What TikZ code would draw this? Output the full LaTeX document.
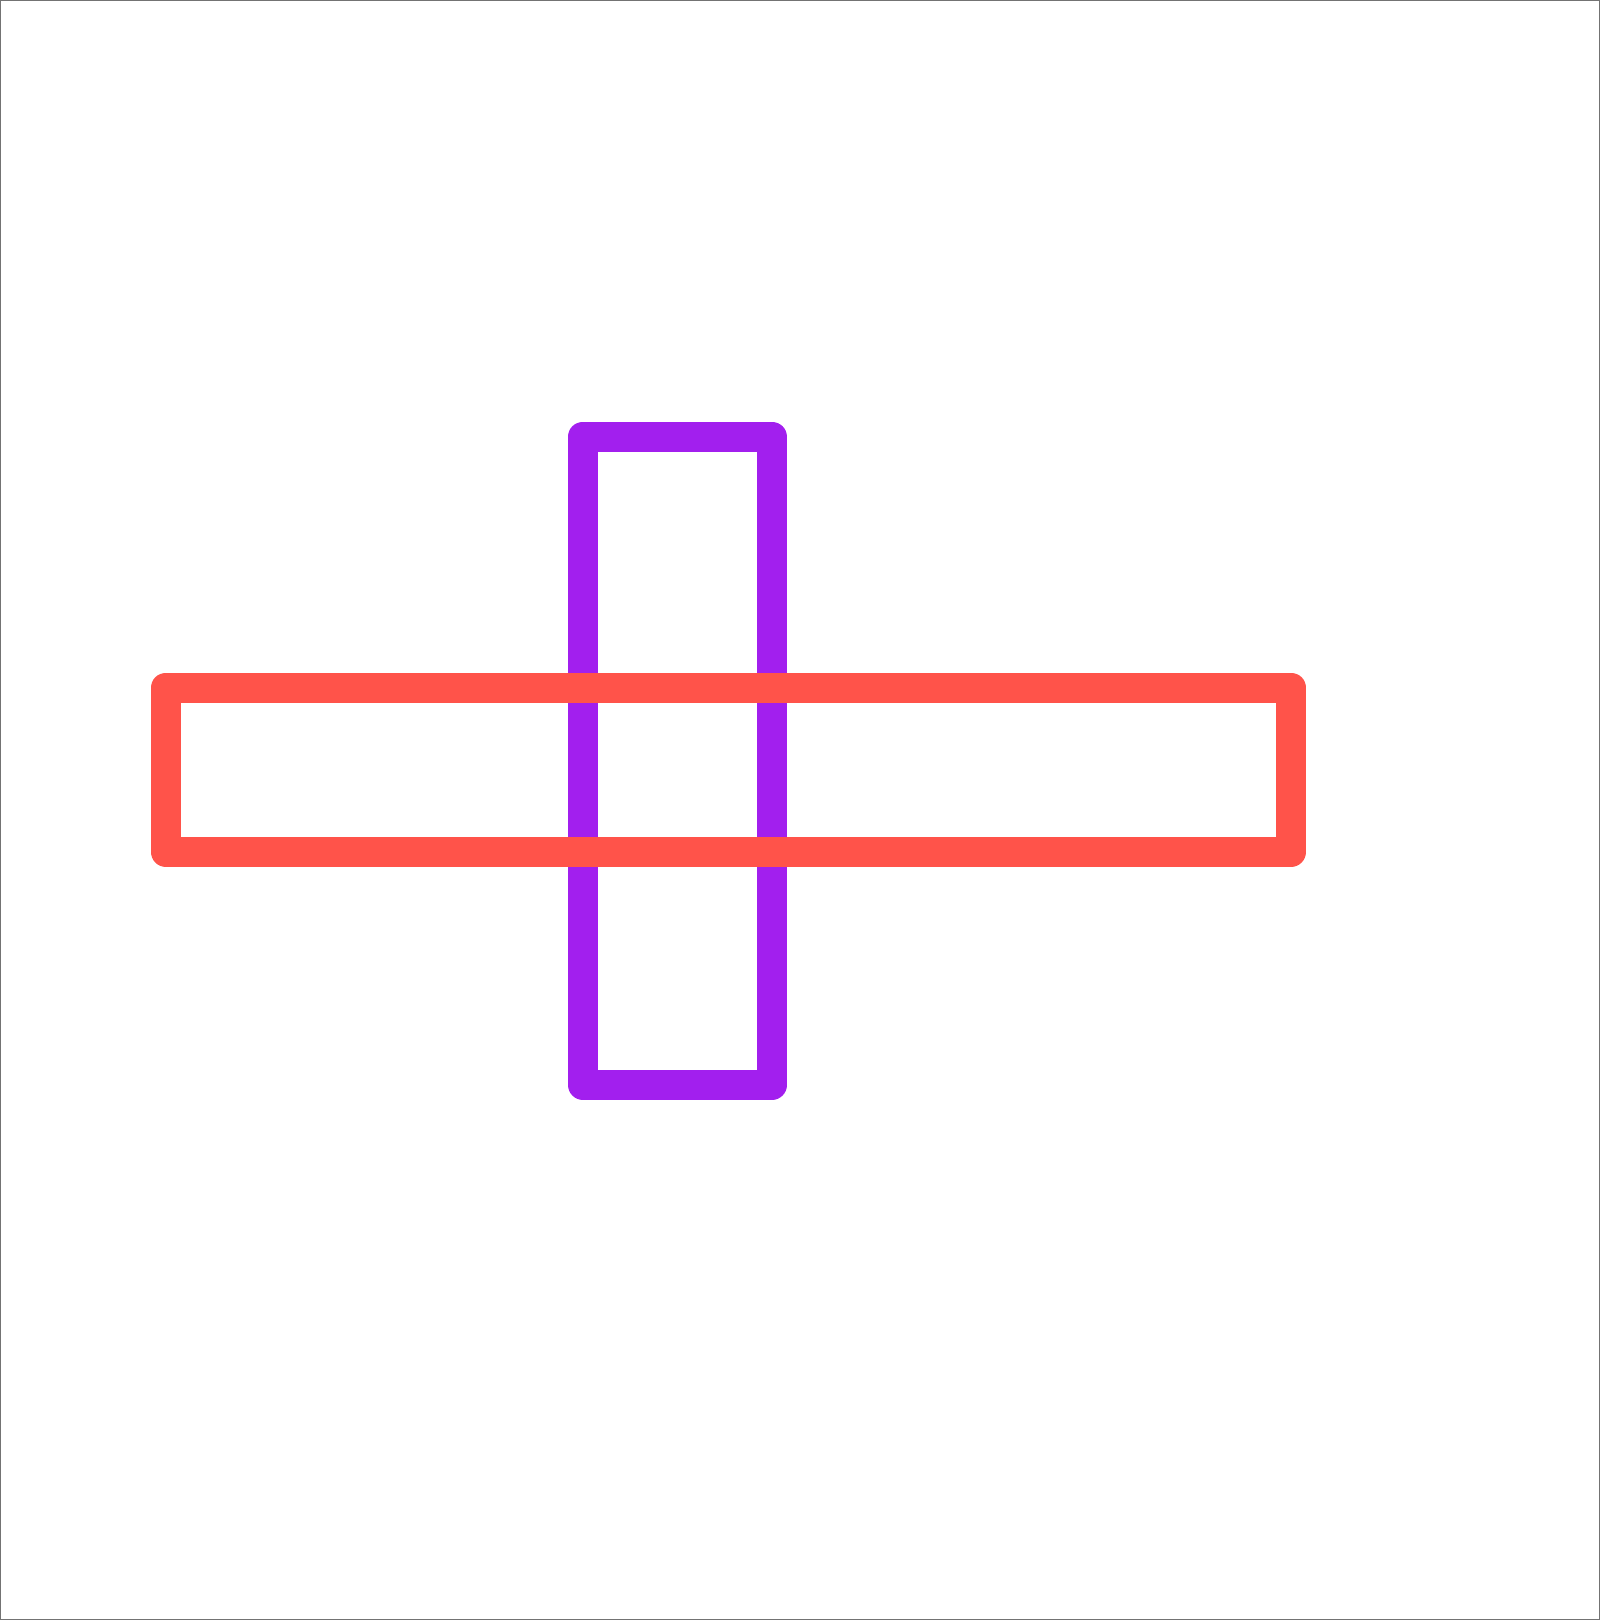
\documentclass[tikz,border=0pt]{standalone}
\usepackage{xcolor}
\usepackage{tikz}
\usetikzlibrary{positioning}

\definecolor{barpurple}{HTML}{A21FEE}
\definecolor{barred}{HTML}{FF534A}

\begin{document}
\begin{tikzpicture}[
        x=0.01cm,
        y=-0.01cm,
        bar/.style={
            rectangle,
            draw,
            line width=0.3cm,
            line join=round,
            inner sep=0pt,
            outer sep=0pt
        },
        vbar/.style={
            bar,
            draw=barpurple,
            minimum width=1.887cm,
            minimum height=6.48cm
        },
        hbar/.style={
            bar,
            draw=barred,
            minimum width=11.248cm,
            minimum height=1.64cm
        },
        frame/.style={
            draw=black!55,
            line width=0.012cm
        }
    ]

    % Rahmen
    \useasboundingbox (0,0) rectangle (1600,1620);
    \draw[frame] (0.6,0.6) rectangle (1599.4,1619.4);

    % Balken
    \node[vbar] (upright) at (677.4,760.7) {};
    \node[hbar] (crossbar) at (728.4,769.7) {};

\end{tikzpicture}
\end{document}
